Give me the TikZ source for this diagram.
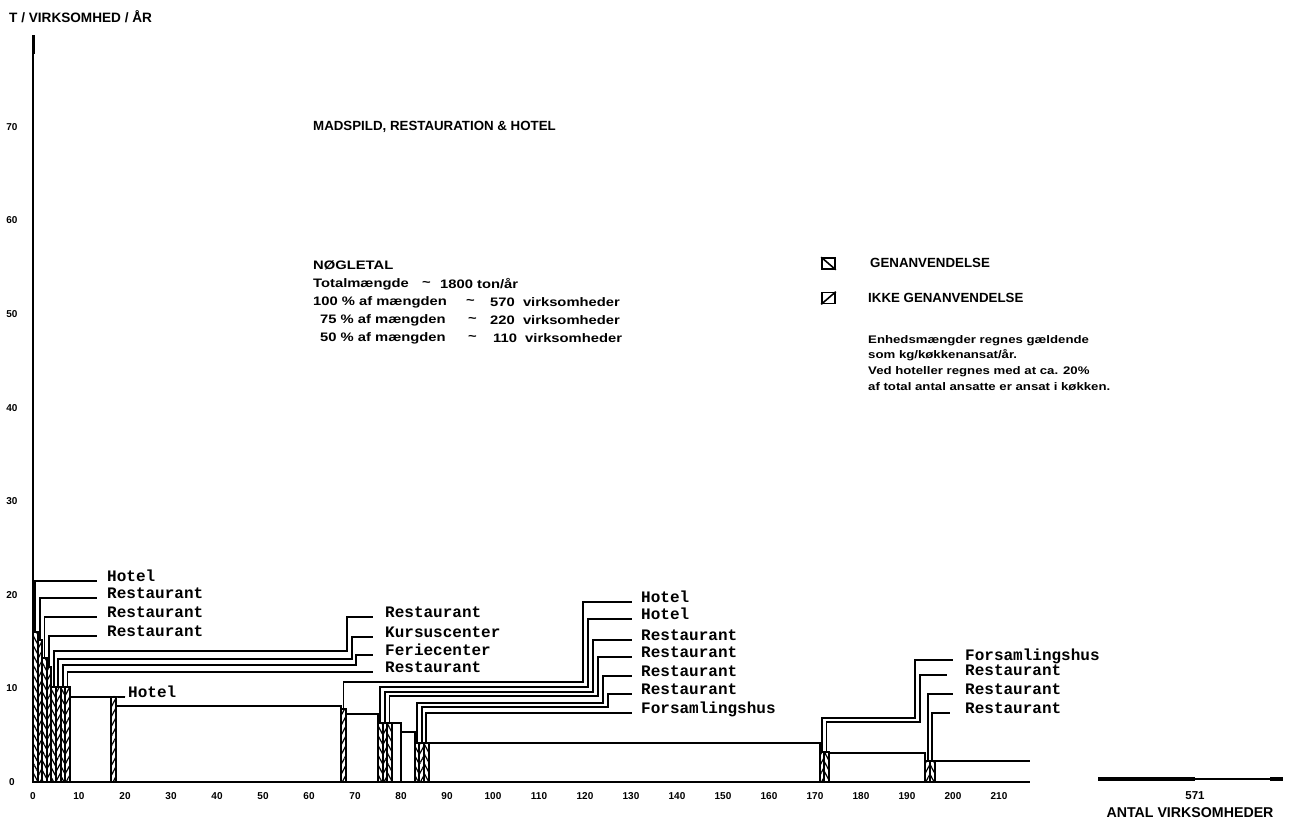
\documentclass[tikz,border=0pt]{standalone}
\usepackage{fontspec}
\setmainfont{Liberation Sans}
\newfontfamily\monof{Liberation Mono}
\newfontfamily\letf[FakeStretch=1.2]{Liberation Sans}
\newfontfamily\parf[FakeStretch=1.2]{Liberation Sans}
\usetikzlibrary{patterns.meta}
\begin{document}
\begin{tikzpicture}[x=1pt,y=-1pt,line join=miter,
  axisline/.style={line width=2.1pt},
  outline/.style={draw,line width=2pt},
  gen/.style={draw,line width=2pt,pattern={Lines[angle=-62,distance=4.6pt,line width=1.2pt]}},
  ikke/.style={draw,line width=2pt,pattern={Lines[angle=62,distance=4.6pt,line width=1.2pt]}},
  lead/.style={line width=1.7pt},
  lab/.style={font=\monof\bfseries\fontsize{16}{16}\selectfont,anchor=base west,inner sep=0pt},
  tick/.style={font=\bfseries\fontsize{10}{10}\selectfont,inner sep=0pt},
  nog/.style={font=\letf\bfseries\fontsize{12.3}{12.3}\selectfont,anchor=west,inner sep=0pt},
  para/.style={font=\parf\bfseries\fontsize{11}{11}\selectfont,anchor=base west,inner sep=0pt},
  caps/.style={font=\bfseries\fontsize{13.3}{13.3}\selectfont,anchor=west,inner sep=0pt},
  sym/.style={draw,line width=1.6pt,minimum width=13pt,minimum height=11pt,inner sep=0pt}
]
\fill[white] (0,0) rectangle (1290,828);
\useasboundingbox (0,0) rectangle (1290,828);

% ---------- chart in data units ----------
\begin{scope}[shift={(33pt,-782pt)},x=4.6pt,y=9.36pt]
  \draw[outline] (8,0) rectangle (17,9.1);
  \draw[outline] (18,0) rectangle (67,8.1);
  \draw[outline] (68,0) rectangle (75,7.3);
  \draw[outline] (78,0) rectangle (80,6.3);
  \draw[outline] (80,0) rectangle (83,5.3);
  \draw[outline] (86,0) rectangle (171,4.2);
  \draw[outline] (173,0) rectangle (194,3.1);
  \draw[outline] (196,0) -- (196,2.2) -- (216.7,2.2);
  \foreach \n/\h/\s in {0/16/gen,1/15.2/ikke,2/13.3/gen,3/12.3/ikke,4/10.1/gen,5/10.1/ikke,6/10.1/gen,7/10.1/ikke,
      17/9.1/ikke,67/7.8/ikke,75/6.3/gen,76/6.3/ikke,77/6.3/gen,83/4.2/gen,84/4.2/ikke,85/4.2/gen,
      171/3.2/ikke,172/3.2/gen,194/2.2/ikke,195/2.2/gen}{
    \draw[\s] (\n,0) rectangle ++(1,\h);
    \coordinate (t\n) at (\n+0.5,\h);
  }
  \draw[axisline] (0,0) -- (216.7,0);
  \draw[axisline] (0,0) -- (0,79.8);
  \draw[line width=3pt] (0,77.8) -- (0,79.8);
  \foreach \n in {0,10,...,210}{\node[tick] (xl\n) at (\n,-1.5) {\n};}
  \foreach \v in {0,10,...,70}{\node[tick] (yl\v) at (-4.6,\v) {\v};}
\end{scope}

% ---------- tail of the x axis ----------
\coordinate (tailA) at (1098,779);
\coordinate (tailB) at (1195,779);
\coordinate (tailC) at (1270,779);
\coordinate (tailD) at (1283,779);
\draw[line width=3.4pt] (tailA) -- (tailB);
\draw[line width=1.6pt] (tailB) -- (tailC);
\draw[line width=3.4pt] (tailC) -- (tailD);
\node[font=\fontsize{11.5}{11.5}\selectfont\bfseries,inner sep=0pt] (n571) at (1195,796) {571};
\node[font=\fontsize{14.2}{14.2}\selectfont\bfseries,inner sep=0pt] (antal) at (1190,813) {ANTAL VIRKSOMHEDER};

% ---------- titles ----------
\node[font=\fontsize{13.6}{13.6}\selectfont\bfseries,anchor=west,inner sep=0pt] (ytitle) at (9,17) {T / VIRKSOMHED / ÅR};
\node[caps] (title) at (313,127) {MADSPILD, RESTAURATION \& HOTEL};

% ---------- key figures ----------
\node[nog] (k0) at (313,265) {NØGLETAL};
\node[nog] (k1a) at (313,284) {Totalmængde};
\node[nog] (k1b) at (422,284) {\textasciitilde};
\node[nog] (k1c) at (440,284) {1800 ton/år};
\node[nog] (k2a) at (313,302) {100 \% af mængden};
\node[nog] (k2b) at (466,302) {\textasciitilde};
\node[nog] (k2c) at (490,302) {570 \ virksomheder};
\node[nog] (k3a) at (320,320) {75 \% af mængden};
\node[nog] (k3b) at (468,320) {\textasciitilde};
\node[nog] (k3c) at (490,320) {220 \ virksomheder};
\node[nog] (k4a) at (320,338) {50 \% af mængden};
\node[nog] (k4b) at (468,338) {\textasciitilde};
\node[nog] (k4c) at (493,338) {110 \ virksomheder};

% ---------- legend ----------
\node[sym] (s1) at (828.5,263.5) {};
\draw[line width=1.6pt] (s1.north west) -- (s1.south east);
\node[caps] (g1) at (870,263) {GENANVENDELSE};
\node[sym] (s2) at (828.5,298) {};
\draw[line width=1.6pt] (s2.south west) -- (s2.north east);
\node[caps] (g2) at (868,298) {IKKE GENANVENDELSE};
\node[para] (p1) at (868,343) {Enhedsmængder regnes gældende};
\node[para] (p2) at (868,358) {som kg/køkkenansat/år.};
\node[para] (p3) at (868,374) {Ved hoteller regnes med at ca. 20\%};
\node[para] (p4) at (868,390) {af total antal ansatte er ansat i køkken.};

% ---------- group A labels ----------
\node[lab] (a0) at (107,581) {Hotel};
\node[lab] (a1) at (107,598) {Restaurant};
\node[lab] (a2) at (107,617) {Restaurant};
\node[lab] (a3) at (107,636) {Restaurant};
\draw[lead] (t0) |- ([xshift=-10pt]a0.base west);
\draw[lead] (t1) |- ([xshift=-10pt]a1.base west);
\draw[lead] (t2) |- ([xshift=-10pt]a2.base west);
\draw[lead] (t3) |- ([xshift=-10pt]a3.base west);

% ---------- group B labels ----------
\node[lab] (b4) at (385,617) {Restaurant};
\node[lab] (b5) at (385,637) {Kursuscenter};
\node[lab] (b6) at (385,655) {Feriecenter};
\node[lab] (b7) at (385,672) {Restaurant};
\coordinate (kb4) at (347,651);
\coordinate (kb5) at (352,659);
\coordinate (kb6) at (356,665);
\draw[lead] (t4) |- (kb4) |- ([xshift=-12pt]b4.base west);
\draw[lead] (t5) |- (kb5) |- ([xshift=-12pt]b5.base west);
\draw[lead] (t6) |- (kb6) |- ([xshift=-12pt]b6.base west);
\draw[lead] (t7) |- ([xshift=-12pt]b7.base west);

% ---------- single hotel ----------
\node[lab] (h17) at (128,697) {Hotel};
\draw[lead] (t17) -- ([xshift=-3pt]h17.base west);

% ---------- group C labels ----------
\node[lab] (c67) at (641,602) {Hotel};
\node[lab] (c75) at (641,619) {Hotel};
\node[lab] (c76) at (641,640) {Restaurant};
\node[lab] (c77) at (641,657) {Restaurant};
\node[lab] (c83) at (641,676) {Restaurant};
\node[lab] (c84) at (641,694) {Restaurant};
\node[lab] (c85) at (641,713) {Forsamlingshus};
\coordinate (kc67) at (583,682);
\coordinate (kc75) at (588,687);
\coordinate (kc76) at (593,692);
\coordinate (kc77) at (598,696);
\coordinate (kc83) at (603,703);
\coordinate (kc84) at (608,707);
\draw[lead] (t67) |- (kc67) |- ([xshift=-9pt]c67.base west);
\draw[lead] (t75) |- (kc75) |- ([xshift=-9pt]c75.base west);
\draw[lead] (t76) |- (kc76) |- ([xshift=-9pt]c76.base west);
\draw[lead] (t77) |- (kc77) |- ([xshift=-9pt]c77.base west);
\draw[lead] (t83) |- (kc83) |- ([xshift=-9pt]c83.base west);
\draw[lead] (t84) |- (kc84) |- ([xshift=-9pt]c84.base west);
\draw[lead] (t85) |- ([xshift=-9pt]c85.base west);

% ---------- group D labels ----------
\node[lab] (d171) at (965,660) {Forsamlingshus};
\node[lab] (d172) at (965,675) {Restaurant};
\node[lab] (d194) at (965,694) {Restaurant};
\node[lab] (d195) at (965,713) {Restaurant};
\coordinate (kd171) at (915,718);
\coordinate (kd172) at (920,722);
\draw[lead] (t171) |- (kd171) |- ([xshift=-12pt]d171.base west);
\draw[lead] (t172) |- (kd172) |- ([xshift=-18pt]d172.base west);
\draw[lead] (t194) |- ([xshift=-12pt]d194.base west);
\draw[lead] (t195) |- ([xshift=-15pt]d195.base west);
\end{tikzpicture}
\end{document}
